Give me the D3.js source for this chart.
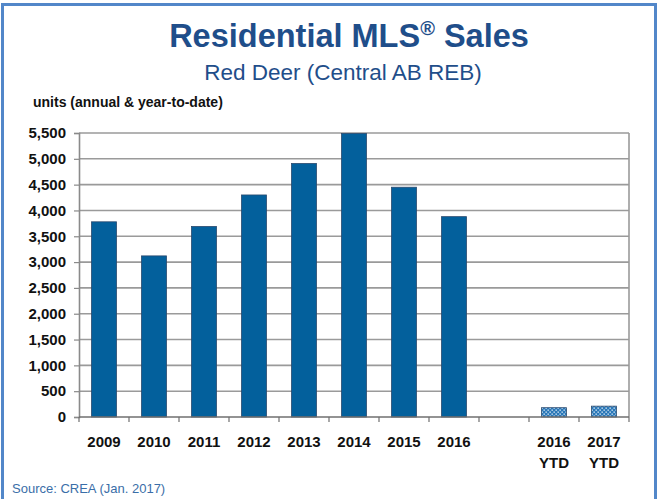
<!DOCTYPE html>
<html>
<head>
<meta charset="utf-8">
<script src="https://cdn.jsdelivr.net/npm/d3@7"></script>
<style>
  body { margin: 0; background: #fff; }
  svg { display: block; font-family: Arial, "Liberation Sans", sans-serif; }
</style>
</head>
<body>
<div id="chart"></div>
<script>
var width = 658,
    height = 499

// categories (a blank slot separates annual totals from year-to-date)
var categories = ['2009', '2010', '2011', '2012', '2013', '2014', '2015', '2016', '', '2016 YTD', '2017 YTD']
var sales = [3780, 3120, 3690, 4300, 4910, 5490, 4450, 3880, null, 180, 210]
var isYtd = [false, false, false, false, false, false, false, false, false, true, true]
var yTicks = [0, 500, 1000, 1500, 2000, 2500, 3000, 3500, 4000, 4500, 5000, 5500]

var margin = { top: 133, right: 29, bottom: 82, left: 79 }
var plotW = width - margin.left - margin.right,
    plotH = height - margin.top - margin.bottom

var titleColor = '#1f4e8a',
    barColor = '#03609c'

var svg = d3.select('#chart').append('svg')
    .attr('width', width)
    .attr('height', height)

// dotted fill for the year-to-date bars
var pat = svg.append('defs').append('pattern')
    .attr('id', 'dots')
    .attr('patternUnits', 'userSpaceOnUse')
    .attr('width', 4)
    .attr('height', 4)
pat.append('rect').attr('width', 4).attr('height', 4).attr('fill', '#2a78b8')
pat.append('rect').attr('x', 0.5).attr('y', 0.5).attr('width', 1.3).attr('height', 1.3).attr('fill', '#e8f1fa')
pat.append('rect').attr('x', 2.5).attr('y', 2.5).attr('width', 1.3).attr('height', 1.3).attr('fill', '#e8f1fa')

// outer frame
svg.append('rect')
    .attr('x', 2.5)
    .attr('y', 4.5)
    .attr('width', 653)
    .attr('height', 520)
    .attr('fill', 'none')
    .attr('stroke', '#5287c9')
    .attr('stroke-width', 3)

svg.append('text')
    .attr('x', 349)
    .attr('y', 47)
    .attr('text-anchor', 'middle')
    .attr('fill', titleColor)
    .attr('font-size', 32.5)
    .attr('font-weight', 'bold')
    .text('Residential MLS')
    .append('tspan')
        .attr('font-size', 20)
        .attr('dy', -12)
        .text('®')
    .select(function() { return this.parentNode; })
    .append('tspan')
        .attr('dy', 12)
        .text(' Sales')

svg.append('text')
    .attr('x', 343)
    .attr('y', 80)
    .attr('text-anchor', 'middle')
    .attr('fill', titleColor)
    .attr('font-size', 22.5)
    .text('Red Deer (Central AB REB)')

svg.append('text')
    .attr('x', 33)
    .attr('y', 107)
    .attr('font-size', 14)
    .attr('font-weight', 'bold')
    .attr('fill', '#111')
    .text('units (annual & year-to-date)')

svg.append('text')
    .attr('x', 12)
    .attr('y', 493)
    .attr('font-size', 13)
    .attr('fill', '#3a6ea8')
    .text('Source: CREA (Jan. 2017)')

var g = svg.append('g')
    .attr('transform', 'translate(' + margin.left + ',' + margin.top + ')')

var x = d3.scaleBand()
    .domain(categories)
    .range([0, plotW])
    .paddingInner(0.5)
    .paddingOuter(0.25)

var y = d3.scaleLinear()
    .domain([0, 5500])
    .range([plotH, 0])

// gridlines
g.selectAll('line.grid')
    .data(yTicks.filter(function(d) { return d > 0 }))
    .enter().append('line')
        .attr('class', 'grid')
        .attr('x1', 0)
        .attr('x2', plotW)
        .attr('y1', function(d) { return y(d) })
        .attr('y2', function(d) { return y(d) })
        .attr('stroke', '#9a9a9a')
        .attr('stroke-width', 1.6)

// right border of plot
g.append('line')
    .attr('x1', plotW).attr('x2', plotW)
    .attr('y1', 0).attr('y2', plotH)
    .attr('stroke', '#9a9a9a')
    .attr('stroke-width', 1.6)

// bars
var barData = categories.map(function(c, i) {
    return { cat: c, value: sales[i], ytd: isYtd[i] }
}).filter(function(d) { return d.value != null })

g.selectAll('rect.bar')
    .data(barData)
    .enter().append('rect')
        .attr('class', 'bar')
        .attr('x', function(d) { return x(d.cat) })
        .attr('y', function(d) { return y(d.value) })
        .attr('width', x.bandwidth())
        .attr('height', function(d) { return plotH - y(d.value) })
        .attr('fill', function(d) { return d.ytd ? 'url(#dots)' : barColor })
        .attr('stroke', '#2b4a6e')
        .attr('stroke-width', 0.8)

// y axis
var yAxis = g.append('g')
    .call(d3.axisLeft(y).tickValues(yTicks).tickSize(5).tickPadding(8).tickFormat(d3.format(',')))
yAxis.select('.domain').attr('stroke', '#8a8a8a').attr('stroke-width', 1.6)
yAxis.selectAll('.tick line').attr('stroke', '#8a8a8a').attr('stroke-width', 1.2)
yAxis.selectAll('text')
    .attr('font-size', 15)
    .attr('font-weight', 'bold')
    .attr('fill', '#111')
    .attr('font-family', 'Arial, "Liberation Sans", sans-serif')

// x axis: ticks at slot boundaries
var step = x.step()
var bounds = d3.range(categories.length + 1).map(function(i) { return i * step })
var xAxis = g.append('g').attr('transform', 'translate(0,' + plotH + ')')
xAxis.append('line')
    .attr('x1', 0).attr('x2', plotW)
    .attr('stroke', '#6f6f6f')
    .attr('stroke-width', 1.6)
xAxis.selectAll('line.tick')
    .data(bounds)
    .enter().append('line')
        .attr('class', 'tick')
        .attr('x1', function(d) { return d })
        .attr('x2', function(d) { return d })
        .attr('y1', 0)
        .attr('y2', 5)
        .attr('stroke', '#6f6f6f')
        .attr('stroke-width', 1.2)

var labels = xAxis.selectAll('text.lab')
    .data(categories.filter(function(c) { return c !== '' }))
    .enter().append('text')
        .attr('class', 'lab')
        .attr('text-anchor', 'middle')
        .attr('font-size', 15)
        .attr('font-weight', 'bold')
        .attr('fill', '#111')
        .attr('transform', function(d) { return 'translate(' + (x(d) + x.bandwidth() / 2) + ',29.5)' })

labels.selectAll('tspan')
    .data(function(d) { return d.split(' ') })
    .enter().append('tspan')
        .attr('x', 0)
        .attr('dy', function(d, i) { return i === 0 ? 0 : 21 })
        .text(function(d) { return d })
</script>
</body>
</html>
